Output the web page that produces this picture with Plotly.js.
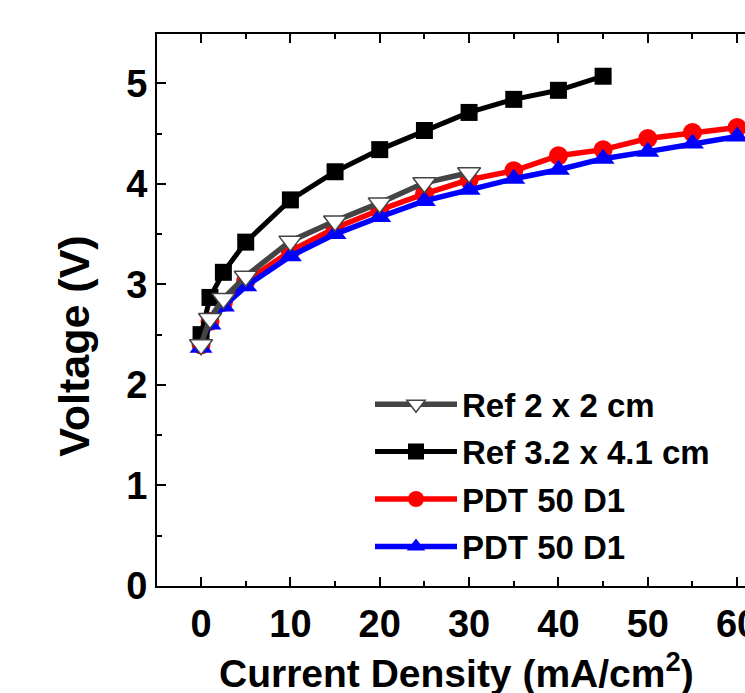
<!DOCTYPE html>
<html>
<head>
<meta charset="utf-8">
<script src="https://cdn.plot.ly/plotly-3.0.1.min.js"></script>
<style>
html, body { margin: 0; padding: 0; overflow: hidden; background: #fff; }
#chart { width: 760px; height: 693px; }
</style>
</head>
<body>
<div id="chart"></div>
<script>
// Data
var seriesNames = ["Ref 2 x 2 cm", "Ref 3.2 x 4.1 cm", "PDT 50 D1", "PDT 50 D1"];

var xRef2 = [0, 1, 2.5, 5, 10, 15, 20, 25, 30];
var yRef2 = [2.40, 2.66, 2.86, 3.08, 3.43, 3.63, 3.81, 4.01, 4.11];

var xRef32 = [0, 1, 2.5, 5, 10, 15, 20, 25, 30, 35, 40, 45];
var yRef32 = [2.50, 2.87, 3.12, 3.42, 3.84, 4.12, 4.34, 4.53, 4.71, 4.84, 4.93, 5.07];

var xPdtRed = [0, 1, 2.5, 5, 10, 15, 20, 25, 30, 35, 40, 45, 50, 55, 60];
var yPdtRed = [2.40, 2.63, 2.82, 3.03, 3.33, 3.56, 3.74, 3.90, 4.04, 4.13, 4.28, 4.34, 4.45, 4.51, 4.56];

var xPdtBlue = [0, 1, 2.5, 5, 10, 15, 20, 25, 30, 35, 40, 45, 50, 55, 60];
var yPdtBlue = [2.37, 2.60, 2.78, 2.98, 3.28, 3.50, 3.67, 3.83, 3.94, 4.05, 4.14, 4.25, 4.32, 4.40, 4.47];

var xTicks = [0, 10, 20, 30, 40, 50, 60];
var yTicks = [0, 1, 2, 3, 4, 5];

var xTitle = "Current Density (mA/cm<sup>2</sup>)";
var yTitle = "Voltage (V)";

var FONT = "Liberation Sans, Arial, Helvetica, sans-serif";

var traces = [
  {
    x: xPdtRed, y: yPdtRed, name: seriesNames[2], legendrank: 3, legendgroup: "c",
    mode: "lines+markers", type: "scatter",
    line: {color: "#ff0000", width: 5.5},
    marker: {symbol: "circle", size: 19, color: "#ff0000"}
  },
  {
    x: xPdtBlue, y: yPdtBlue, name: seriesNames[3], legendrank: 4, legendgroup: "d",
    mode: "lines+markers", type: "scatter",
    line: {color: "#0000ff", width: 5.5},
    marker: {symbol: "triangle-up", size: 20, color: "#0000ff"}
  },
  {
    x: xRef32, y: yRef32, name: seriesNames[1], legendrank: 2, legendgroup: "b",
    mode: "lines+markers", type: "scatter",
    line: {color: "#000000", width: 5},
    marker: {symbol: "square", size: 17, color: "#000000"}
  },
  {
    x: xRef2, y: yRef2, name: seriesNames[0], legendrank: 1, legendgroup: "a",
    mode: "lines+markers", type: "scatter",
    line: {color: "#444444", width: 5.5},
    marker: {symbol: "triangle-down", size: 20, color: "#ffffff", line: {color: "#444444", width: 1.5}}
  }
];

var layout = {
  width: 760, height: 693,
  margin: {l: 157, r: 5, t: 34, b: 107},
  paper_bgcolor: "#ffffff", plot_bgcolor: "#ffffff",
  showlegend: true,
  legend: {
    x: (370 - 157) / 598, y: 0.38, xanchor: "left", yanchor: "top",
    bgcolor: "rgba(0,0,0,0)", borderwidth: 0,
    font: {family: FONT, size: 33, color: "#000", weight: "bold"},
    itemwidth: 82, tracegroupgap: 1.5,
    traceorder: "grouped"
  },
  xaxis: {
    range: [-4.93, 62.0], tickvals: xTicks, ticktext: xTicks.map(String),
    showgrid: false, zeroline: false,
    showline: true, linecolor: "#000", linewidth: 2, mirror: "ticks",
    ticks: "inside", ticklen: 9, tickwidth: 2, tickcolor: "#000",
    minor: {ticks: "inside", ticklen: 5, tickwidth: 2, dtick: 5, tick0: 0, tickcolor: "#000", showgrid: false},
    tickfont: {family: FONT, size: 38, color: "#000", weight: "bold"},
    ticklabelstandoff: 3
  },
  yaxis: {
    range: [0, 5.49], tickvals: yTicks, ticktext: yTicks.map(String),
    showgrid: false, zeroline: false,
    showline: true, linecolor: "#000", linewidth: 2, mirror: "ticks",
    ticks: "inside", ticklen: 9, tickwidth: 2, tickcolor: "#000",
    minor: {ticks: "inside", ticklen: 5, tickwidth: 2, dtick: 0.5, tick0: 0, tickcolor: "#000", showgrid: false},
    tickfont: {family: FONT, size: 38, color: "#000", weight: "bold"}
  },
  annotations: [
    {
      text: yTitle, textangle: -90, showarrow: false,
      xref: "paper", yref: "paper", x: (74 - 157) / 598, y: (586.5 - 347) / 552.5,
      xanchor: "center", yanchor: "middle",
      font: {family: FONT, size: 43, color: "#000", weight: "bold"}
    },
    {
      text: xTitle, showarrow: false,
      xref: "paper", yref: "paper", x: (456 - 157) / 598, y: (586.5 - 671) / 552.5,
      xanchor: "center", yanchor: "middle",
      font: {family: FONT, size: 39, color: "#000", weight: "bold"}
    }
  ]
};

Plotly.newPlot("chart", traces, layout, {displayModeBar: false, staticPlot: true});
</script>
</body>
</html>
